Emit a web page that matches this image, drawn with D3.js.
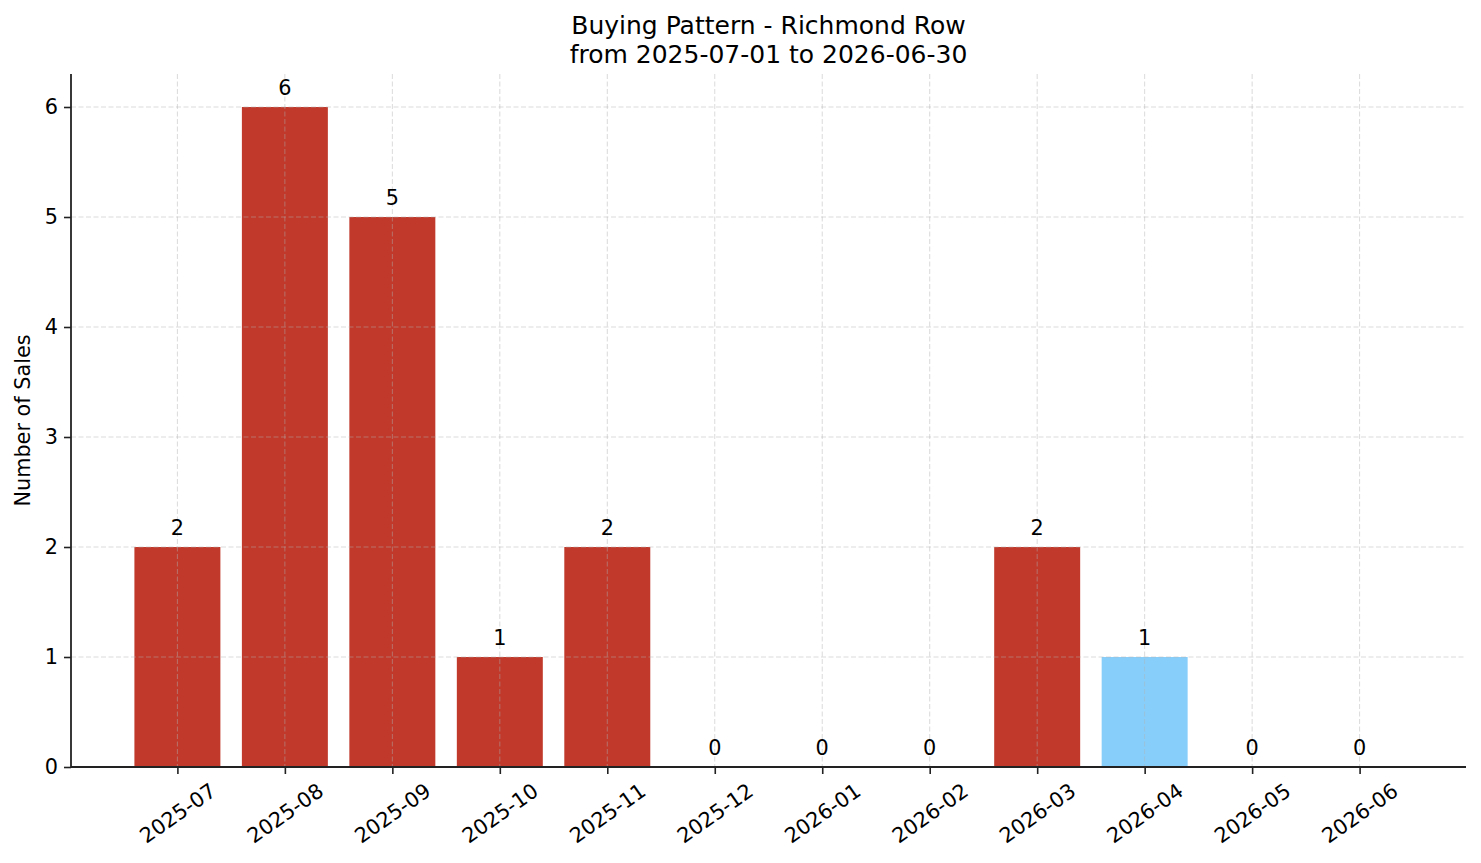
<!DOCTYPE html>
<html lang="en">
<head>
    <meta charset="UTF-8">
    <title>Buying Pattern - Richmond Row</title>
    <script src="https://d3js.org/d3.v7.min.js"></script>
    <style>
        body { margin: 0; background: #fff; }
        svg text { font-family: "DejaVu Sans", sans-serif; fill: #000; }
    </style>
</head>
<body>
    <svg width="1481" height="863"></svg>

    <script>
        // Data
        const months = ["2025-07", "2025-08", "2025-09", "2025-10", "2025-11", "2025-12",
                        "2026-01", "2026-02", "2026-03", "2026-04", "2026-05", "2026-06"];
        const sales = [2, 6, 5, 1, 2, 0, 0, 0, 2, 1, 0, 0];
        const highlightMonth = "2026-04";
        const yTicks = [0, 1, 2, 3, 4, 5, 6];
        const titleLines = ["Buying Pattern - Richmond Row", "from 2025-07-01 to 2026-06-30"];

        // Plot area edges
        const plot = { left: 71, right: 1466, top: 74, bottom: 767 };
        const svg = d3.select("svg");

        // Scales (matplotlib-like padding around categorical bars)
        const idx = months.map((d, i) => i);
        const x = d3.scaleLinear().domain([-0.99, months.length - 1 + 0.99]).range([plot.left, plot.right]);
        const y = d3.scaleLinear().domain([0, 6.3]).range([plot.bottom, plot.top]);
        const barW = x(0.8) - x(0);

        // Bars
        svg.append("g").selectAll("rect")
            .data(sales)
            .join("rect")
            .attr("x", (d, i) => x(i) - barW / 2)
            .attr("y", d => y(d))
            .attr("width", barW)
            .attr("height", d => y(0) - y(d))
            .attr("fill", (d, i) => months[i] === highlightMonth ? "#87cefa" : "#c0392b");

        // Grid (drawn on top of bars)
        const grid = svg.append("g")
            .attr("stroke", "#b0b0b0")
            .attr("stroke-opacity", 0.6)
            .attr("stroke-width", 0.8)
            .attr("stroke-dasharray", "5,2.5");
        grid.selectAll(".gy").data(yTicks).join("line")
            .attr("class", "gy")
            .attr("x1", plot.left).attr("x2", plot.right)
            .attr("y1", d => y(d)).attr("y2", d => y(d));
        grid.selectAll(".gx").data(idx).join("line")
            .attr("class", "gx")
            .attr("x1", d => x(d)).attr("x2", d => x(d))
            .attr("y1", plot.top).attr("y2", plot.bottom);

        // Y axis
        const yAxis = svg.append("g")
            .attr("transform", `translate(${plot.left},0)`)
            .call(d3.axisLeft(y).tickValues(yTicks).tickFormat(d3.format("d")).tickSize(7).tickPadding(6));
        yAxis.select(".domain").attr("stroke", "#222").attr("stroke-width", 1.8)
            .attr("d", `M0,${plot.top}V${plot.bottom}`);
        yAxis.selectAll(".tick line").attr("stroke", "#222").attr("stroke-width", 1.6);
        yAxis.selectAll(".tick text").attr("font-size", "20.8px")
            .attr("font-family", "DejaVu Sans").attr("fill", "#000");

        // X axis
        const xAxis = svg.append("g")
            .attr("transform", `translate(0,${plot.bottom})`)
            .call(d3.axisBottom(x).tickValues(idx).tickFormat(i => months[i]).tickSize(7));
        xAxis.select(".domain").attr("stroke", "#222").attr("stroke-width", 1.8)
            .attr("d", `M${plot.left},0H${plot.right}`);
        xAxis.selectAll(".tick line").attr("stroke", "#222").attr("stroke-width", 1.6);
        xAxis.selectAll(".tick text")
            .attr("font-size", "20.8px")
            .attr("font-family", "DejaVu Sans")
            .attr("fill", "#000")
            .attr("text-anchor", "middle")
            .attr("dy", null)
            .attr("dominant-baseline", "central")
            .each(function () {
                const w = this.getComputedTextLength();
                const h = 20.8;
                const a = 35 * Math.PI / 180;
                const bh = w * Math.sin(a) + h * Math.cos(a);
                d3.select(this).attr("y", 0)
                    .attr("transform", `translate(0,${13 + bh / 2}) rotate(-35)`);
            });

        // Value labels
        svg.append("g").selectAll("text")
            .data(sales)
            .join("text")
            .attr("x", (d, i) => x(i))
            .attr("y", d => y(d) - 12.5)
            .attr("text-anchor", "middle")
            .attr("font-size", "20.8px")
            .text(d => d);

        // Title
        svg.append("g").selectAll("text")
            .data(titleLines)
            .join("text")
            .attr("x", (plot.left + plot.right) / 2)
            .attr("y", (d, i) => 34 + i * 29)
            .attr("text-anchor", "middle")
            .attr("font-size", "25px")
            .text(d => d);

        // Y label
        svg.append("text")
            .attr("transform", `translate(30,${(plot.top + plot.bottom) / 2}) rotate(-90)`)
            .attr("text-anchor", "middle")
            .attr("font-size", "20.8px")
            .text("Number of Sales");
    </script>
</body>
</html>
